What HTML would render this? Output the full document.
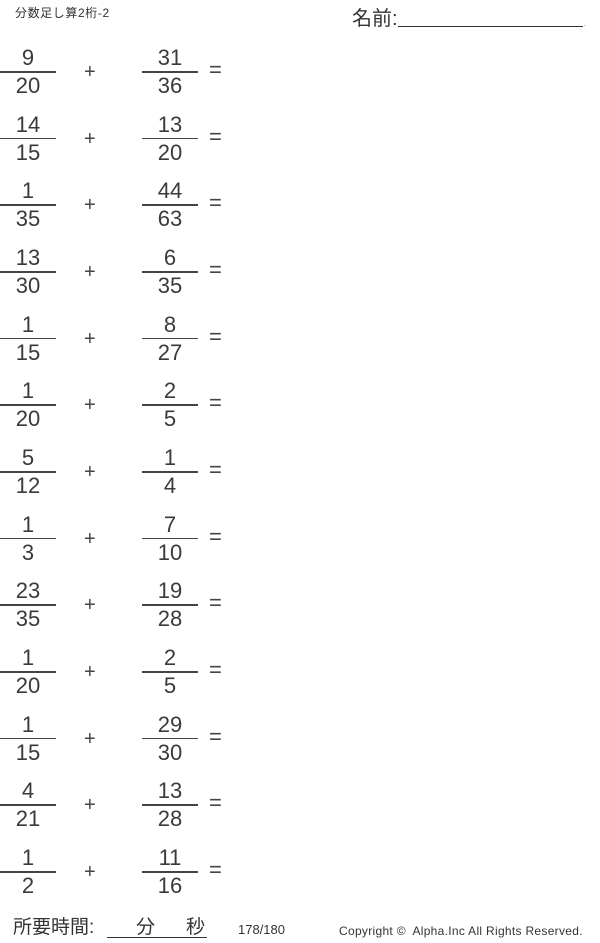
<!DOCTYPE html>
<html><head><meta charset="utf-8"><style>
body{margin:0;width:600px;height:943px;background:#fff;position:relative;font-family:"Liberation Sans","Noto Sans CJK JP",sans-serif;color:#333;overflow:hidden}
.a{position:absolute}
.r{position:absolute;left:0;width:240px;height:60px}
.n,.d{position:absolute;width:56px;text-align:center;font-size:22px;line-height:24px;color:#3a3a3a}
.n{top:2px}.d{top:30px}
.l{position:absolute;top:27px;height:1.5px;background:#444}
.p{position:absolute;left:84px;top:16px;font-size:20px;line-height:24px;color:#444}
.e{position:absolute;left:209px;top:14px;font-size:22px;line-height:24px;color:#444}
</style></head><body>
<div class="a" style="left:15px;top:4px;font-size:12px;letter-spacing:0.6px">分数足し算2桁-2</div>
<div class="a" style="left:352px;top:7px;font-size:20px;line-height:24px">名前:</div>
<div class="a" style="left:398px;top:26px;width:185px;height:1px;background:#333"></div>
<div class="a" style="left:584px;top:22px;font-size:6px">.</div>

<div class="r" style="top:44px"><div class="n" style="left:0">9</div><div class="l" style="left:0;width:56px"></div><div class="d" style="left:0">20</div><div class="p">+</div><div class="n" style="left:142px">31</div><div class="l" style="left:142px;width:56px"></div><div class="d" style="left:142px">36</div><div class="e">=</div></div>
<div class="r" style="top:110.7px"><div class="n" style="left:0">14</div><div class="l" style="left:0;width:56px"></div><div class="d" style="left:0">15</div><div class="p">+</div><div class="n" style="left:142px">13</div><div class="l" style="left:142px;width:56px"></div><div class="d" style="left:142px">20</div><div class="e">=</div></div>
<div class="r" style="top:177.3px"><div class="n" style="left:0">1</div><div class="l" style="left:0;width:56px"></div><div class="d" style="left:0">35</div><div class="p">+</div><div class="n" style="left:142px">44</div><div class="l" style="left:142px;width:56px"></div><div class="d" style="left:142px">63</div><div class="e">=</div></div>
<div class="r" style="top:244px"><div class="n" style="left:0">13</div><div class="l" style="left:0;width:56px"></div><div class="d" style="left:0">30</div><div class="p">+</div><div class="n" style="left:142px">6</div><div class="l" style="left:142px;width:56px"></div><div class="d" style="left:142px">35</div><div class="e">=</div></div>
<div class="r" style="top:310.7px"><div class="n" style="left:0">1</div><div class="l" style="left:0;width:56px"></div><div class="d" style="left:0">15</div><div class="p">+</div><div class="n" style="left:142px">8</div><div class="l" style="left:142px;width:56px"></div><div class="d" style="left:142px">27</div><div class="e">=</div></div>
<div class="r" style="top:377.3px"><div class="n" style="left:0">1</div><div class="l" style="left:0;width:56px"></div><div class="d" style="left:0">20</div><div class="p">+</div><div class="n" style="left:142px">2</div><div class="l" style="left:142px;width:56px"></div><div class="d" style="left:142px">5</div><div class="e">=</div></div>
<div class="r" style="top:444px"><div class="n" style="left:0">5</div><div class="l" style="left:0;width:56px"></div><div class="d" style="left:0">12</div><div class="p">+</div><div class="n" style="left:142px">1</div><div class="l" style="left:142px;width:56px"></div><div class="d" style="left:142px">4</div><div class="e">=</div></div>
<div class="r" style="top:510.7px"><div class="n" style="left:0">1</div><div class="l" style="left:0;width:56px"></div><div class="d" style="left:0">3</div><div class="p">+</div><div class="n" style="left:142px">7</div><div class="l" style="left:142px;width:56px"></div><div class="d" style="left:142px">10</div><div class="e">=</div></div>
<div class="r" style="top:577.3px"><div class="n" style="left:0">23</div><div class="l" style="left:0;width:56px"></div><div class="d" style="left:0">35</div><div class="p">+</div><div class="n" style="left:142px">19</div><div class="l" style="left:142px;width:56px"></div><div class="d" style="left:142px">28</div><div class="e">=</div></div>
<div class="r" style="top:644px"><div class="n" style="left:0">1</div><div class="l" style="left:0;width:56px"></div><div class="d" style="left:0">20</div><div class="p">+</div><div class="n" style="left:142px">2</div><div class="l" style="left:142px;width:56px"></div><div class="d" style="left:142px">5</div><div class="e">=</div></div>
<div class="r" style="top:710.7px"><div class="n" style="left:0">1</div><div class="l" style="left:0;width:56px"></div><div class="d" style="left:0">15</div><div class="p">+</div><div class="n" style="left:142px">29</div><div class="l" style="left:142px;width:56px"></div><div class="d" style="left:142px">30</div><div class="e">=</div></div>
<div class="r" style="top:777.3px"><div class="n" style="left:0">4</div><div class="l" style="left:0;width:56px"></div><div class="d" style="left:0">21</div><div class="p">+</div><div class="n" style="left:142px">13</div><div class="l" style="left:142px;width:56px"></div><div class="d" style="left:142px">28</div><div class="e">=</div></div>
<div class="r" style="top:844px"><div class="n" style="left:0">1</div><div class="l" style="left:0;width:56px"></div><div class="d" style="left:0">2</div><div class="p">+</div><div class="n" style="left:142px">11</div><div class="l" style="left:142px;width:56px"></div><div class="d" style="left:142px">16</div><div class="e">=</div></div>

<div class="a" style="left:13px;top:916px;font-size:19px;line-height:24px">所要時間:</div>
<div class="a" style="left:107px;top:937px;width:100px;height:1px;background:#333"></div>
<div class="a" style="left:136px;top:916px;font-size:19px;line-height:24px">分</div>
<div class="a" style="left:186px;top:916px;font-size:19px;line-height:24px">秒</div>
<div class="a" style="left:238px;top:922px;font-size:13px;line-height:16px">178/180</div>
<div class="a" style="left:339px;top:923px;font-size:12px;line-height:16px;letter-spacing:0.3px">Copyright ©&nbsp; Alpha.Inc All Rights Reserved.</div>
</body></html>
